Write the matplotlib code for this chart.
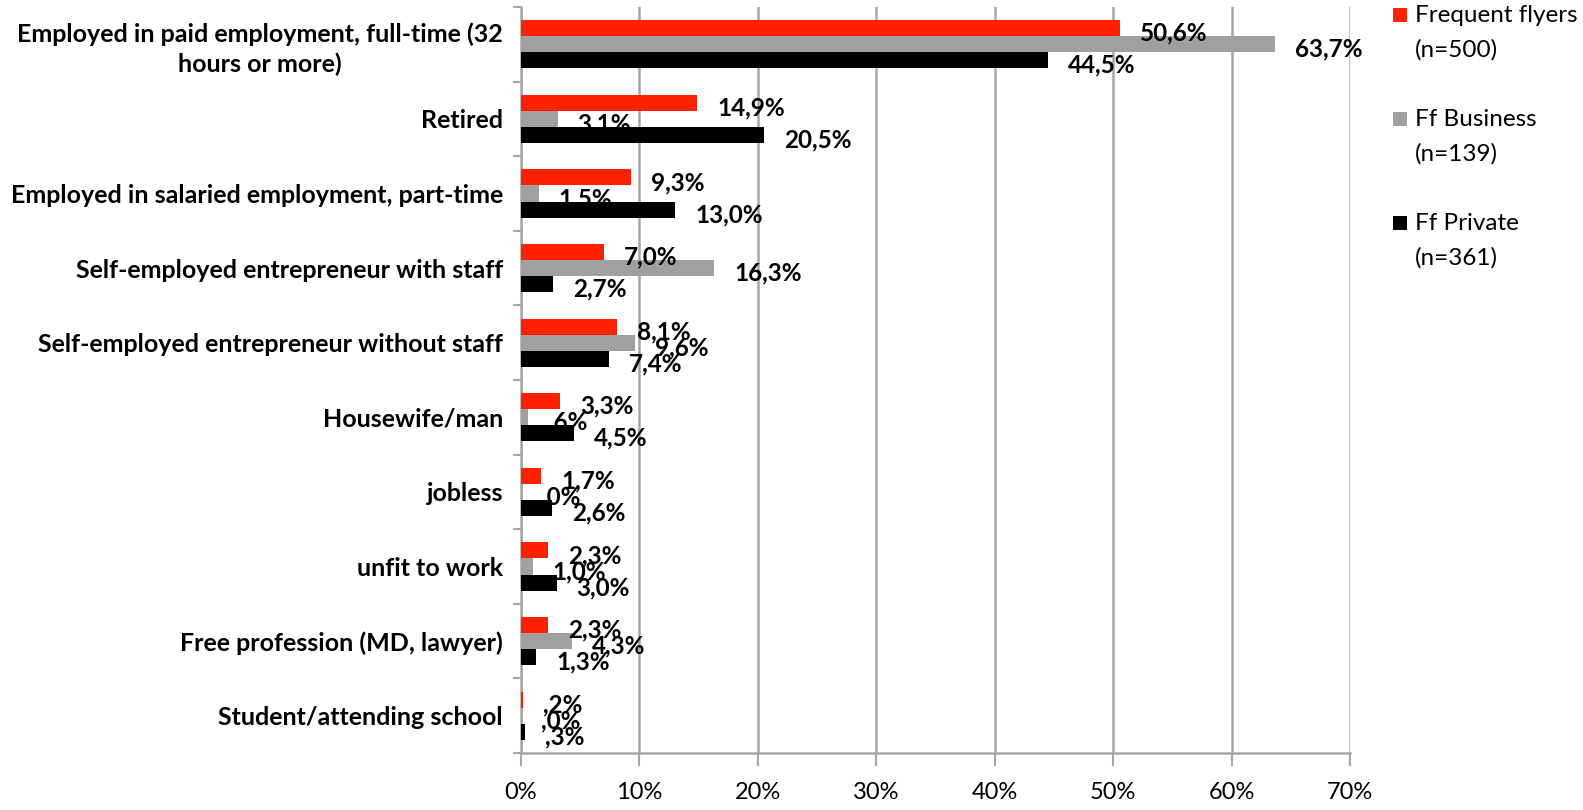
import numpy as np
import matplotlib
matplotlib.use("Agg")
import matplotlib.pyplot as plt
from matplotlib.patches import Rectangle

plt.rcParams['font.family'] = ['Lato', 'DejaVu Sans']

categories = [
    "Employed in paid employment, full-time (32\nhours or more)",
    "Retired",
    "Employed in salaried employment, part-time",
    "Self-employed entrepreneur with staff",
    "Self-employed entrepreneur without staff",
    "Housewife/man",
    "jobless",
    "unfit to work",
    "Free profession (MD, lawyer)",
    "Student/attending school",
]
frequent = [50.6, 14.9, 9.3, 7.0, 8.1, 3.3, 1.7, 2.3, 2.3, 0.2]
business = [63.7, 3.1, 1.5, 16.3, 9.6, 0.6, 0.0, 1.0, 4.3, 0.0]
private = [44.5, 20.5, 13.0, 2.7, 7.4, 4.5, 2.6, 3.0, 1.3, 0.3]
series_names = ["Frequent flyers", "Ff Business", "Ff Private"]
series_n = ["(n=500)", "(n=139)", "(n=361)"]
colors = ["#ff2200", "#a0a0a0", "#000000"]
x_ticks = [0, 10, 20, 30, 40, 50, 60, 70]

W, H = 1583, 810


def fmt(v):
    # Excel-style: comma decimal, no leading zero
    s = f"{v:.1f}".replace(".", ",")
    if s.startswith("0,"):
        s = s[1:]
    return s + "%"


fig = plt.figure(figsize=(W / 100, H / 100), dpi=100)
ax = fig.add_axes([521 / W, 1 - 753 / H, (1350 - 521) / W, (753 - 7) / H])

y = np.arange(len(categories))
h = 0.215
grid_col = "#a6a6a6"

for k, (vals, col) in enumerate(zip([frequent, business, private], colors)):
    pos = y + (k - 1) * h
    ax.barh(pos, vals, height=h, color=col, zorder=3)
    for v, p in zip(vals, pos):
        ax.annotate(fmt(v), (v, p), xytext=(20, -5), textcoords="offset pixels",
                    ha="left", va="center", fontsize=17.5, fontweight="bold",
                    color="black", zorder=5)

ax.set_xlim(0, 70)
ax.set_ylim(len(categories) - 0.5, -0.5)
ax.set_xticks(x_ticks)
ax.set_xticklabels([f"{t}%" for t in x_ticks], fontsize=17)
ax.set_yticks(y)
ax.set_yticklabels(categories, fontsize=18, fontweight="bold")
for lbl in ax.get_yticklabels():
    lbl.set_multialignment("center")
    lbl.set_linespacing(1.3)
ax.set_yticks(np.arange(-0.5, len(categories)), minor=True)
ax.tick_params(axis="y", which="major", length=0, pad=13)
ax.tick_params(axis="y", which="minor", length=6, color=grid_col, width=1.5)
ax.tick_params(axis="x", length=9, color=grid_col, width=1.5, pad=12)

ax.grid(axis="x", color=grid_col, linewidth=1.8, zorder=0)
for s in ["top", "right"]:
    ax.spines[s].set_visible(False)
for s in ["left", "bottom"]:
    ax.spines[s].set_color(grid_col)
    ax.spines[s].set_linewidth(1.8)

# legend, laid out by hand like the Excel one
for k, (name, n, col) in enumerate(zip(series_names, series_n, colors)):
    yc = 15 + 104 * k
    fig.patches.append(Rectangle((1393 / W, 1 - (yc + 7) / H), 14 / W, 14 / H,
                                 transform=fig.transFigure, facecolor=col,
                                 edgecolor="none"))
    fig.text(1415 / W, 1 - yc / H, name, fontsize=17.5, ha="left", va="center")
    fig.text(1415 / W, 1 - (yc + 35) / H, n, fontsize=17.5, ha="left", va="center")

fig.savefig("out.png", dpi=100)
